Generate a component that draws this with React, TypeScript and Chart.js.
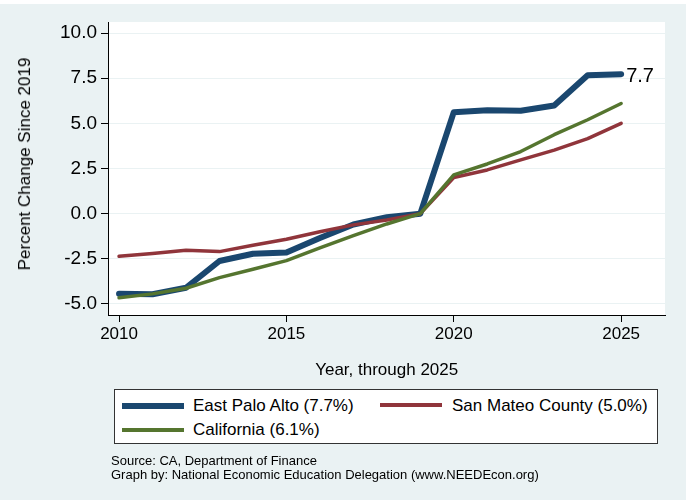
import React, { useEffect, useRef } from 'react';
import { Chart, registerables } from 'chart.js';

Chart.register(...registerables);

// ---- Data ----
const years = [2010, 2011, 2012, 2013, 2014, 2015, 2016, 2017, 2018, 2019, 2020, 2021, 2022, 2023, 2024, 2025];
const eastPaloAlto = [-4.44, -4.46, -4.1, -2.62, -2.22, -2.15, -1.35, -0.6, -0.2, 0, 5.62, 5.72, 5.7, 5.99, 7.66, 7.72];
const sanMateoCounty = [-2.36, -2.2, -2.02, -2.1, -1.75, -1.42, -1.0, -0.62, -0.35, 0, 2.0, 2.42, 2.98, 3.52, 4.15, 5.0];
const california = [-4.66, -4.44, -4.13, -3.54, -3.08, -2.6, -1.9, -1.22, -0.57, 0, 2.15, 2.75, 3.44, 4.37, 5.2, 6.1];
const seriesLabels = ['East Palo Alto (7.7%)', 'San Mateo County (5.0%)', 'California (6.1%)'];
const xTicks = [2010, 2015, 2020, 2025];
const yTicks = [-5, -2.5, 0, 2.5, 5, 7.5, 10];
const yTitle = 'Percent Change Since 2019';
const xTitle = 'Year, through 2025';
const sourceLines = ['Source: CA, Department of Finance', 'Graph by: National Economic Education Delegation (www.NEEDEcon.org)'];

// ---- Styles ----
const FONT = '"Liberation Sans", Arial, Helvetica, sans-serif';
const BG = '#EAF2F3';
const COLORS = ['#1A476F', '#90353B', '#55752F'];
const WIDTHS = [6, 3.5, 3.5];

export default function App() {
  const ref = useRef<HTMLCanvasElement>(null);

  useEffect(() => {
    document.body.style.margin = '0';
    const canvas = ref.current!;
    const pts = (vals: number[]) => years.map((x, i) => ({ x, y: vals[i] }));

    const areaPlugin = {
      id: 'areaBg',
      beforeDraw(chart: any) {
        const { ctx, chartArea: a } = chart;
        ctx.save();
        ctx.fillStyle = '#ffffff';
        ctx.fillRect(a.left, a.top, a.right - a.left, a.bottom - a.top);
        ctx.restore();
      },
    };

    const endLabel = {
      id: 'endLabel',
      afterDatasetsDraw(chart: any) {
        const meta = chart.getDatasetMeta(0);
        const last = meta.data[meta.data.length - 1];
        const v = eastPaloAlto[eastPaloAlto.length - 1];
        const ctx = chart.ctx;
        ctx.save();
        ctx.font = `20px ${FONT}`;
        ctx.fillStyle = '#000';
        ctx.textAlign = 'left';
        ctx.textBaseline = 'middle';
        ctx.fillText(v.toFixed(1), last.x + 5, last.y + 2);
        ctx.restore();
      },
    };

    const chart = new Chart(canvas, {
      type: 'line',
      data: {
        datasets: [
          { label: seriesLabels[0], data: pts(eastPaloAlto), borderColor: COLORS[0], borderWidth: WIDTHS[0], order: 3 },
          { label: seriesLabels[1], data: pts(sanMateoCounty), borderColor: COLORS[1], borderWidth: WIDTHS[1], order: 2 },
          { label: seriesLabels[2], data: pts(california), borderColor: COLORS[2], borderWidth: WIDTHS[2], order: 1 },
        ],
      },
      options: {
        responsive: false,
        animation: false,
        events: [],
        layout: { padding: { left: 0, top: 22, right: 21, bottom: 0 } },
        elements: {
          point: { radius: 0, hoverRadius: 0 },
          line: { tension: 0, borderCapStyle: 'round', borderJoinStyle: 'round', fill: false },
        },
        plugins: { legend: { display: false }, tooltip: { enabled: false } },
        scales: {
          x: {
            type: 'linear',
            min: 2009.67,
            max: 2026.31,
            afterBuildTicks: (s: any) => { s.ticks = xTicks.map((v) => ({ value: v })); },
            afterFit: (s: any) => { s.height = 185; },
            ticks: { font: { size: 17, family: FONT }, color: '#000', padding: 2, maxRotation: 0, callback: (v: any) => String(v) },
            grid: { drawOnChartArea: false, drawTicks: true, tickLength: 7, tickColor: '#000' },
            border: { display: true, color: '#000', width: 1 },
          },
          y: {
            type: 'linear',
            min: -5.61,
            max: 10.61,
            afterBuildTicks: (s: any) => { s.ticks = yTicks.map((v) => ({ value: v })); },
            afterFit: (s: any) => { s.width = 108; },
            ticks: { font: { size: 19, family: FONT }, color: '#000', padding: 4, callback: (v: any) => Number(v).toFixed(1) },
            grid: { color: BG, lineWidth: 1, drawTicks: true, tickLength: 7, tickColor: '#000' },
            border: { display: true, color: '#000', width: 1 },
          },
        },
      },
      plugins: [areaPlugin, endLabel],
    } as any);
    return () => chart.destroy();
  }, []);

  const legendItems = [
    { i: 0, lineLeft: 7, lineTop: 405.5, textLeft: 78, textTop: 406 },
    { i: 1, lineLeft: 265, lineTop: 404.7, textLeft: 337, textTop: 406 },
    { i: 2, lineLeft: 7, lineTop: 429.8, textLeft: 78, textTop: 430 },
  ];

  return (
    <div style={{ position: 'relative', width: 686, height: 500, background: BG, overflow: 'hidden', fontFamily: FONT, color: '#000' }}>
      <div style={{ position: 'absolute', left: 0, top: 0, width: 686, height: 4, background: '#fff' }} />
      <canvas ref={ref} width={686} height={500} style={{ position: 'absolute', left: 0, top: 0, width: 686, height: 500 }} />
      <div style={{ position: 'absolute', left: 25, top: 164, transform: 'translate(-50%, -50%) rotate(-90deg)', whiteSpace: 'nowrap', fontSize: 17, lineHeight: 'normal' }}>{yTitle}</div>
      <div style={{ position: 'absolute', left: 386.7, top: 369.5, transform: 'translate(-50%, -50%)', whiteSpace: 'nowrap', fontSize: 17, lineHeight: 'normal' }}>{xTitle}</div>
      <div style={{ position: 'absolute', left: 114, top: 389, width: 544, height: 55, boxSizing: 'border-box', border: '1px solid #333', background: '#fff' }}>
        {legendItems.map((it) => (
          <React.Fragment key={it.i}>
            <div style={{ position: 'absolute', left: it.lineLeft, top: it.lineTop - 390 - (it.i === 0 ? 3 : 2), width: 62, height: it.i === 0 ? 6 : 4, background: COLORS[it.i] }} />
            <div style={{ position: 'absolute', left: it.textLeft, top: it.textTop - 390, transform: 'translateY(-50%)', whiteSpace: 'nowrap', fontSize: 17, lineHeight: 'normal' }}>{seriesLabels[it.i]}</div>
          </React.Fragment>
        ))}
      </div>
      {sourceLines.map((s, k) => (
        <div key={k} style={{ position: 'absolute', left: 111, top: 460.3 + k * 13.2, transform: 'translateY(-50%)', whiteSpace: 'nowrap', fontSize: 13, lineHeight: 'normal' }}>{s}</div>
      ))}
    </div>
  );
}
